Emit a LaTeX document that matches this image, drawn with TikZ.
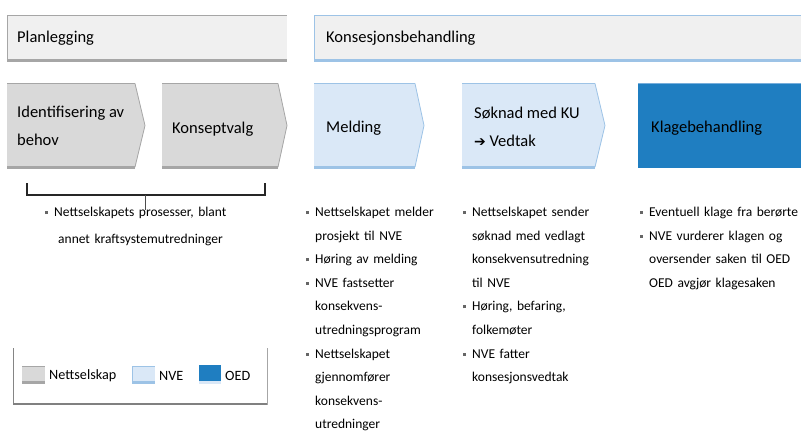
\documentclass[tikz,border=0pt]{standalone}
\usepackage{fontspec}
\setmainfont{Carlito}
\newfontfamily\symfont{DejaVu Sans}
\definecolor{grayfill}{HTML}{D9D9D9}
\definecolor{grayline}{HTML}{A6A6A6}
\definecolor{hdrfill}{HTML}{F0F0F0}
\definecolor{bluefill}{HTML}{DAE8F7}
\definecolor{blueline}{HTML}{9DC3E6}
\definecolor{darkblue}{HTML}{1F7EC1}
\newcommand{\bsq}{\textcolor{black!60}{\rule[2.5pt]{3pt}{3pt}}\hspace{6pt}}
\newcommand{\bin}{\hspace{9pt}}
\tikzset{
  x=1pt,y=-1pt,
  title/.style={anchor=west,font=\fontsize{16.5}{19}\selectfont,inner sep=0},
  steptext/.style={anchor=west,font=\fontsize{16.5}{28}\selectfont,align=left,inner sep=0},
  legtext/.style={anchor=west,font=\fontsize{14.2}{16}\selectfont,inner sep=0},
  bul/.style={anchor=north west,font=\fontsize{13.5}{23.6}\selectfont,align=left,inner sep=0,text width=#1},
  bul/.default=110pt,
}
\newcommand{\chev}[6]{% x1, xbody, xtip, fill, line, name
  \fill[#4] (#1,83) -- (#2,83) -- (#3,125.5) -- (#2,168) -- (#1,168) -- cycle;
  \draw[#5,line width=1pt] (#1,83.5) -- (#2,83.5);
  \draw[#5,line width=3pt] (#1,167) -- (#2,167);
  \draw[#5,line width=0.8pt] (#2,83.5) -- (#3,125.5) -- (#2,167);
  \coordinate (#6) at (#1,125.5);
}
\begin{document}
\begin{tikzpicture}
\useasboundingbox (0,0) rectangle (801,437);
% headers
\fill[hdrfill] (7,15) rectangle (287,61);
\draw[grayline,line width=1pt] (7,15.5) -- (287,15.5);
\draw[grayline,line width=0.8pt] (7.4,15) -- (7.4,61);
\draw[grayline,line width=3pt] (7,60) -- (287,60);
\node[title] (plan) at (17,38) {Planlegging};
\fill[hdrfill] (314,15) rectangle (801,61);
\draw[blueline,line width=1pt] (314,15.5) -- (801,15.5);
\draw[blueline,line width=0.8pt] (314.4,15) -- (314.4,61);
\draw[blueline,line width=3pt] (314,60) -- (801,60);
\node[title] (kons) at (326,38) {Konsesjonsbehandling};
% chevrons
\chev{7}{135}{145}{grayfill}{grayline}{c1}
\chev{162}{278}{287}{grayfill}{grayline}{c2}
\chev{314}{415}{424}{bluefill}{blueline}{c3}
\chev{462}{595}{605}{bluefill}{blueline}{c4}
\fill[darkblue] (638,83) rectangle (801,168);
\draw[blueline!70!darkblue,line width=1pt] (638,83.5) -- (801,83.5);
\node[steptext] (t1) at (17,126) {Identifisering av\\behov};
\node[steptext] (t2) at (172,129) {Konseptvalg};
\node[steptext] (t3) at (326,128) {Melding};
\node[steptext] (t4) at (474,127) {Søknad med KU\\{\symfont\bfseries\fontsize{14}{16}\selectfont ➔} Vedtak};
\node[steptext] (t5) at (651,128) {Klagebehandling};
% bracket
\coordinate (bl) at (27,183);
\coordinate (br) at (265,183);
\coordinate (bm) at (145,195);
\coordinate (bt) at (145,210);
\draw[black!85,line width=1.6pt] (bl) -- (27,195) -- (265,195) -- (br);
\draw[black!70,line width=1pt] (bm) -- (bt);
% bullet texts
\node[bul=230pt,font=\fontsize{13.5}{27}\selectfont] (b0) at (45,207) {\bsq Nettselskapets prosesser, blant\\\hspace{13pt}annet kraftsystemutredninger};
\node[bul=150pt] (b1) at (306,207) {\bsq Nettselskapet melder\\\bin prosjekt til NVE\\\bsq Høring av melding\\\bsq NVE fastsetter\\\bin konsekvens-\\\bin utredningsprogram\\\bsq Nettselskapet\\\bin gjennomfører\\\bin konsekvens-\\\bin utredninger};
\node[bul=170pt] (b2) at (463,207) {\bsq Nettselskapet sender\\\bin søknad med vedlagt\\\bin konsekvensutredning\\\bin til NVE\\\bsq Høring, befaring,\\\bin folkemøter\\\bsq NVE fatter\\\bin konsesjonsvedtak};
\node[bul=170pt] (b3) at (640,207) {\bsq Eventuell klage fra berørte\\\bsq NVE vurderer klagen og\\\bin oversender saken til OED\\\bin OED avgjør klagesaken};
% legend
\draw[grayline!80!black,line width=1.2pt] (13.6,348) -- (13.6,405);
\draw[grayline,line width=1pt] (267,348) -- (267,405);
\draw[gray,line width=2.5pt] (13,404) -- (267,404);
\fill[grayfill] (22,366) rectangle (45,384);
\draw[grayline,line width=1pt] (22,366.5) -- (45,366.5);
\draw[grayline,line width=2.5pt] (22,382.5) -- (45,382.5);
\node[legtext] (l1) at (49,376) {Nettselskap};
\fill[bluefill] (132,366) rectangle (155,384);
\draw[blueline,line width=1pt] (132,366.5) -- (155,366.5);
\draw[blueline,line width=0.8pt] (132.4,366) -- (132.4,384);
\draw[blueline,line width=2.5pt] (132,382.5) -- (155,382.5);
\node[legtext] (l2) at (159,376) {NVE};
\fill[darkblue] (199,365) rectangle (221,381);
\fill[bluefill] (199,381) rectangle (221,384);
\node[legtext] (l3) at (225,376) {OED};
\end{tikzpicture}
\end{document}
